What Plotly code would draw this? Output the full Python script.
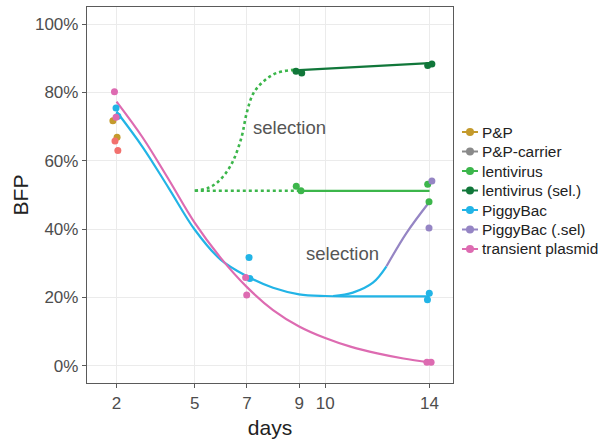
import plotly.graph_objects as go

# ---------------- data ----------------
# observed points (days slightly jittered as in the picture), BFP fraction
pp_x = [1.86, 2.02]
pp_y = [0.717, 0.669]

ppc_x = [1.94, 2.05]          # drawn in salmon in the picture
ppc_y = [0.658, 0.630]

lenti_x = [8.89, 9.07, 13.93, 13.98]
lenti_y = [0.525, 0.512, 0.531, 0.480]

lentisel_x = [8.88, 9.10, 13.93, 14.09]
lentisel_y = [0.862, 0.857, 0.879, 0.883]

pb_x = [1.98, 2.05, 7.08, 7.11, 13.99, 13.92]
pb_y = [0.754, 0.730, 0.317, 0.255, 0.212, 0.193]

pbsel_x = [14.09, 13.98]
pbsel_y = [0.541, 0.403]

tp_x = [1.92, 1.98, 6.95, 6.99, 13.90, 14.06]
tp_y = [0.802, 0.727, 0.258, 0.207, 0.010, 0.010]

# fitted curves
tp_fit_x = [2, 3, 4, 5, 6, 7, 8, 9, 10, 11, 12, 13, 14]
tp_fit_y = [0.773, 0.668, 0.545, 0.418, 0.315, 0.230, 0.163, 0.115, 0.081, 0.055, 0.036, 0.021, 0.010]

pb_fit_x = [2, 3, 4, 5, 6, 7, 8, 9, 10, 11, 12, 13, 14]
pb_fit_y = [0.744, 0.640, 0.520, 0.398, 0.310, 0.262, 0.228, 0.209, 0.204, 0.203, 0.203, 0.203, 0.203]

pbsel_fit_x = [10.3, 11.06, 11.83, 12.35]
pbsel_fit_y = [0.204, 0.214, 0.243, 0.291]
pbsel_fit2_x = [12.35, 13.12, 14.0]
pbsel_fit2_y = [0.291, 0.389, 0.480]

lenti_dot_x = [5, 9]
lenti_dot_y = [0.512, 0.512]
lenti_fit_x = [9, 14]
lenti_fit_y = [0.512, 0.512]

lentisel_dot_x = [5, 5.5, 5.84, 6.2, 6.49, 6.8, 6.99, 7.25, 7.63, 8.14, 8.84, 9]
lentisel_dot_y = [0.512, 0.520, 0.535, 0.565, 0.603, 0.671, 0.740, 0.798, 0.832, 0.857, 0.866, 0.865]
lentisel_fit_x = [9, 14]
lentisel_fit_y = [0.865, 0.886]

x_ticks = [2, 5, 7, 9, 10, 14]
y_ticks = [0, 0.2, 0.4, 0.6, 0.8, 1.0]

legend_names = ["P&P", "P&P-carrier", "lentivirus", "lentivirus (sel.)",
                "PiggyBac", "PiggyBac (.sel)", "transient plasmid"]
legend_colors = ["#C49A2C", "#8A8A8A", "#3CB64B", "#11773A",
                 "#22B4E6", "#9585C4", "#DD6BB1"]
salmon = "#F2716E"

C = dict(zip(legend_names, legend_colors))

W, H = 616, 443
ML, MR, MT, MB = 87, 163, 7, 60
PW, PH = W - ML - MR, H - MT - MB

fig = go.Figure()

def line(x, y, color, dash="solid", width=2.2):
    fig.add_trace(go.Scatter(x=x, y=y, mode="lines", showlegend=False,
                             line=dict(color=color, width=width, dash=dash, shape="spline", smoothing=1.0),
                             hoverinfo="skip"))

def pts(x, y, color):
    fig.add_trace(go.Scatter(x=x, y=y, mode="markers", showlegend=False,
                             marker=dict(color=color, size=7)))

# lines
line(lenti_dot_x, lenti_dot_y, C["lentivirus"], dash="dot", width=2.6)
line(lentisel_dot_x, lentisel_dot_y, C["lentivirus"], dash="dot", width=2.6)
line(lenti_fit_x, lenti_fit_y, C["lentivirus"])
line(lentisel_fit_x, lentisel_fit_y, C["lentivirus (sel.)"])
line(pb_fit_x, pb_fit_y, C["PiggyBac"])
line(pbsel_fit_x, pbsel_fit_y, C["PiggyBac"])
line(pbsel_fit2_x, pbsel_fit2_y, C["PiggyBac (.sel)"])
line(tp_fit_x, tp_fit_y, C["transient plasmid"])

# points
pts(pp_x, pp_y, C["P&P"])
pts(ppc_x, ppc_y, salmon)
pts(lenti_x, lenti_y, C["lentivirus"])
pts(lentisel_x, lentisel_y, C["lentivirus (sel.)"])
pts(pbsel_x, pbsel_y, C["PiggyBac (.sel)"])
pts(pb_x, pb_y, C["PiggyBac"])
pts(tp_x, tp_y, C["transient plasmid"])

font = "Liberation Sans, Arial, sans-serif"

# legend (drawn as paper-anchored shapes + text for ggplot-like compact spacing)
def px2x(px):
    return (px - ML) / PW

def py2y(py):
    return (MT + PH - py) / PH

for i, (n, c) in enumerate(zip(legend_names, legend_colors)):
    yc = py2y(132 + 19.5 * i)
    fig.add_shape(type="line", xref="paper", yref="paper",
                  x0=px2x(462), x1=px2x(478), y0=yc, y1=yc,
                  line=dict(color=c, width=2))
    fig.add_shape(type="circle", xref="paper", yref="paper",
                  xsizemode="pixel", ysizemode="pixel",
                  xanchor=px2x(470), yanchor=yc,
                  x0=-4, x1=4, y0=-4, y1=4,
                  fillcolor=c, line=dict(color=c, width=0))
    fig.add_annotation(xref="paper", yref="paper", x=px2x(480), y=yc,
                       xanchor="left", yanchor="middle", text=n, showarrow=False,
                       font=dict(family=font, size=15.4, color="#222222"))

fig.add_annotation(x=8.62, y=0.697, text="selection", showarrow=False,
                   font=dict(family=font, size=18.5, color="#555555"))
fig.add_annotation(x=10.65, y=0.328, text="selection", showarrow=False,
                   font=dict(family=font, size=18.5, color="#555555"))

axis_common = dict(showgrid=True, gridcolor="#EBEBEB", gridwidth=1.2,
                   showline=True, linecolor="#5A5A5A", linewidth=1.3, mirror=True,
                   ticks="outside", ticklen=4, tickcolor="#5A5A5A", tickwidth=1.2,
                   zeroline=False,
                   tickfont=dict(family=font, size=17, color="#4D4D4D"))

fig.update_xaxes(range=[0.867, 14.9], tickvals=x_ticks, ticktext=[str(t) for t in x_ticks],
                 title=dict(text="days", font=dict(family=font, size=21, color="#222222"), standoff=8),
                 **axis_common)
fig.update_yaxes(range=[-0.0506, 1.05], tickvals=y_ticks, tickformat=".0%",
                 title=dict(text="BFP", font=dict(family=font, size=21, color="#222222"), standoff=0),
                 **axis_common)

fig.update_layout(
    width=W, height=H,
    margin=dict(l=ML, r=MR, t=MT, b=MB, autoexpand=False),
    plot_bgcolor="white", paper_bgcolor="white",
    font=dict(family=font, color="#222222"),
    showlegend=False,
)

fig.write_html("out.html", config={"displayModeBar": False},
               post_script="document.body.style.margin='0px';")
